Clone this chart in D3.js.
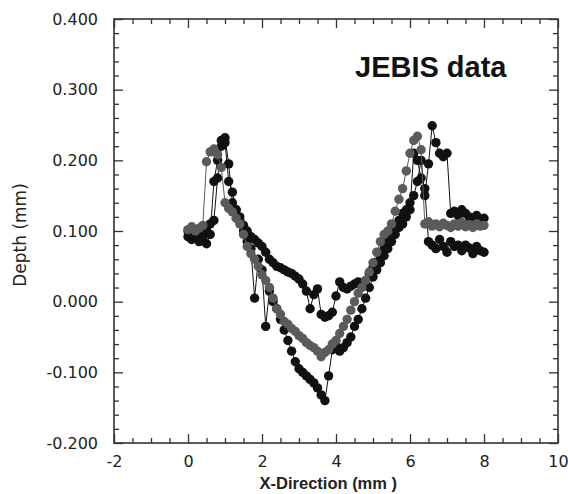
<!DOCTYPE html>
<html>
<head>
<meta charset="utf-8">
<script src="https://cdn.jsdelivr.net/npm/d3@7"></script>
<style>
  body { margin: 0; background: #fff; }
  .axis text { font-family: "DejaVu Sans", sans-serif; font-size: 16px; fill: #222; }
  .axis line { stroke: #333; stroke-width: 1.3; }
  .axis path { display: none; }
  .axis-title { font-family: "DejaVu Sans", sans-serif; fill: #222; }
</style>
</head>
<body>
<svg id="chart"></svg>
<script>
// measurement positions along the profile (mm)
const xMm = [
  0.0, 0.1, 0.2, 0.3, 0.4, 0.5, 0.6, 0.7, 0.8, 0.9,
  1.0, 1.1, 1.2, 1.3, 1.4, 1.5, 1.6, 1.7, 1.8, 1.9,
  2.0, 2.1, 2.2, 2.3, 2.4, 2.5, 2.6, 2.7, 2.8, 2.9,
  3.0, 3.1, 3.2, 3.3, 3.4, 3.5, 3.6, 3.7, 3.8, 3.9,
  4.0, 4.1, 4.2, 4.3, 4.4, 4.5, 4.6, 4.7, 4.8, 4.9,
  5.0, 5.1, 5.2, 5.3, 5.4, 5.5, 5.6, 5.7, 5.8, 5.9,
  6.0, 6.1, 6.2, 6.3, 6.4, 6.5, 6.6, 6.7, 6.8, 6.9,
  7.0, 7.1, 7.2, 7.3, 7.4, 7.5, 7.6, 7.7, 7.8, 7.9,
  8.0
];

// deepest profile (black)
const depthDeep = [
  0.092, 0.088, 0.095, 0.085, 0.090, 0.082, 0.095, 0.170, 0.200, 0.228,
  0.232, 0.195, 0.140, 0.130, 0.115, 0.100, 0.085, 0.075, 0.005, 0.060,
  0.045, -0.035, 0.015, 0.000, -0.010, -0.025, -0.040, -0.055, -0.070, -0.085,
  -0.095, -0.100, -0.105, -0.110, -0.115, -0.122, -0.132, -0.140, -0.105, -0.068,
  -0.062, -0.070, -0.065, -0.058, -0.050, -0.035, -0.025, -0.010, 0.005, 0.020,
  0.035, 0.045, 0.055, 0.065, 0.075, 0.085, 0.095, 0.105, 0.110, 0.120,
  0.130, 0.210, 0.200, 0.175, 0.160, 0.085, 0.080, 0.075, 0.088, 0.078,
  0.070, 0.085, 0.078, 0.080, 0.072, 0.080, 0.076, 0.068, 0.078, 0.072,
  0.070
];

// shallow profile (black)
const depthShallow = [
  0.100, 0.095, 0.098, 0.092, 0.100, 0.105, 0.110, 0.115, 0.175, 0.220,
  0.225, 0.170, 0.155, 0.130, 0.120, 0.108, 0.100, 0.092, 0.088, 0.083,
  0.078, 0.070, 0.060, 0.055, 0.050, 0.048, 0.045, 0.042, 0.040, 0.036,
  0.032, 0.025, 0.015, -0.010, 0.010, 0.018, -0.018, -0.022, -0.020, -0.015,
  0.008, 0.028, 0.020, 0.018, 0.022, 0.025, 0.028, 0.026, 0.030, 0.040,
  0.048, 0.055, 0.062, 0.075, 0.085, 0.095, 0.105, 0.115, 0.125, 0.130,
  0.140, 0.150, 0.170, 0.200, 0.150, 0.195, 0.249, 0.225, 0.210, 0.205,
  0.210, 0.125, 0.128, 0.122, 0.130, 0.125, 0.120, 0.118, 0.122, 0.115,
  0.118
];

// middle profile (grey)
const depthGray = [
  0.102, 0.106, 0.100, 0.104, 0.108, 0.198, 0.212, 0.216, 0.208, 0.190,
  0.140, 0.132, 0.127, 0.118, 0.110, 0.095, 0.078, 0.068, 0.060, 0.050,
  0.038, 0.030, 0.020, 0.005, -0.010, -0.018, -0.028, -0.032, -0.038, -0.042,
  -0.048, -0.052, -0.058, -0.062, -0.065, -0.070, -0.078, -0.072, -0.068, -0.060,
  -0.055, -0.045, -0.035, -0.025, -0.012, 0.000, 0.012, 0.020, 0.030, 0.042,
  0.055, 0.070, 0.085, 0.095, 0.100, 0.110, 0.128, 0.145, 0.160, 0.185,
  0.210, 0.228, 0.234, 0.215, 0.110, 0.113, 0.107, 0.110, 0.106, 0.111,
  0.108, 0.105, 0.110, 0.107, 0.112, 0.106, 0.109, 0.105, 0.110, 0.107,
  0.108
];

const xTicks = [-2, 0, 2, 4, 6, 8, 10];
const yTicks = [-0.2, -0.1, 0.0, 0.1, 0.2, 0.3, 0.4];

const width = 568, height = 494;
const margin = {top: 19, right: 10, bottom: 51, left: 114};
const plotW = width - margin.left - margin.right;
const plotH = height - margin.top - margin.bottom;

// plain hyphen instead of d3's unicode minus
const hyphen = f => d => f(d).replace("\u2212", "-");

const svg = d3.select("#chart")
              .attr("width", width)
              .attr("height", height);

const g = svg.append("g")
             .attr("transform", `translate(${margin.left},${margin.top})`);

const x = d3.scaleLinear().domain([-2, 10]).range([0, plotW]);
const y = d3.scaleLinear().domain([-0.2, 0.4]).range([plotH, 0]);

// major + minor ticks, all pointing inward, on all four sides
const xMinor = x.ticks(24).filter(v => !xTicks.includes(v));
const yMinor = y.ticks(30).filter(v => !yTicks.some(t => Math.abs(t - v) < 1e-9));

g.append("g").attr("class", "axis")
 .attr("transform", `translate(0,${plotH})`)
 .call(d3.axisBottom(x).tickValues(xTicks).tickSizeInner(-9).tickSizeOuter(0)
         .tickPadding(13).tickFormat(hyphen(d3.format("d"))));
g.append("g").attr("class", "axis")
 .attr("transform", `translate(0,${plotH})`)
 .call(d3.axisBottom(x).tickValues(xMinor).tickSizeInner(-5).tickSizeOuter(0).tickFormat(""));
g.append("g").attr("class", "axis")
 .call(d3.axisTop(x).tickValues(xTicks).tickSizeInner(-9).tickSizeOuter(0).tickFormat(""));
g.append("g").attr("class", "axis")
 .call(d3.axisTop(x).tickValues(xMinor).tickSizeInner(-5).tickSizeOuter(0).tickFormat(""));

g.append("g").attr("class", "axis")
 .call(d3.axisLeft(y).tickValues(yTicks).tickSizeInner(-9).tickSizeOuter(0)
         .tickPadding(16).tickFormat(hyphen(d3.format(".3f"))));
g.append("g").attr("class", "axis")
 .call(d3.axisLeft(y).tickValues(yMinor).tickSizeInner(-5).tickSizeOuter(0).tickFormat(""));
g.append("g").attr("class", "axis")
 .attr("transform", `translate(${plotW},0)`)
 .call(d3.axisRight(y).tickValues(yTicks).tickSizeInner(-9).tickSizeOuter(0).tickFormat(""));
g.append("g").attr("class", "axis")
 .attr("transform", `translate(${plotW},0)`)
 .call(d3.axisRight(y).tickValues(yMinor).tickSizeInner(-5).tickSizeOuter(0).tickFormat(""));

g.selectAll(".axis text").attr("fill", "#222");

g.append("rect")
 .attr("width", plotW)
 .attr("height", plotH)
 .attr("fill", "none")
 .attr("stroke", "#333")
 .attr("stroke-width", 1.6);

// profiles
const series = [
  {name: "deep", values: depthDeep, color: "#111"},
  {name: "shallow", values: depthShallow, color: "#111"},
  {name: "gray", values: depthGray, color: "#5b5b5b"}
];

const line = d3.line()
               .x(d => x(d[0]))
               .y(d => y(d[1]));

series.forEach(s => {
  const pts = xMm.map((v, i) => [v, s.values[i]]);
  const sg = g.append("g").attr("class", "series " + s.name);
  sg.append("path")
    .datum(pts)
    .attr("d", line)
    .attr("fill", "none")
    .attr("stroke", s.color)
    .attr("stroke-width", 1);
  sg.selectAll("circle")
    .data(pts)
    .enter()
    .append("circle")
    .attr("r", 4.7)
    .attr("cx", d => x(d[0]))
    .attr("cy", d => y(d[1]))
    .attr("fill", s.color);
});

// titles
svg.append("text")
   .attr("x", margin.left + x(3.9) - 4)
   .attr("y", 489)
   .attr("text-anchor", "middle")
   .attr("class", "axis-title")
   .style("font-family", "'Liberation Sans', Arial, sans-serif")
   .style("font-weight", "bold")
   .style("font-size", "16.5px")
   .text("X-Direction (mm )");

svg.append("text")
   .attr("x", 0)
   .attr("y", 0)
   .attr("text-anchor", "middle")
   .attr("class", "axis-title")
   .style("font-size", "17px")
   .attr("transform", "translate(26,235) rotate(-90)")
   .text("Depth (mm)");

svg.append("text")
   .attr("x", 355)
   .attr("y", 77)
   .style("font-family", "'Liberation Sans', Arial, sans-serif")
   .style("font-weight", "bold")
   .style("font-size", "29px")
   .attr("fill", "#111")
   .text("JEBIS data");
</script>
</body>
</html>
